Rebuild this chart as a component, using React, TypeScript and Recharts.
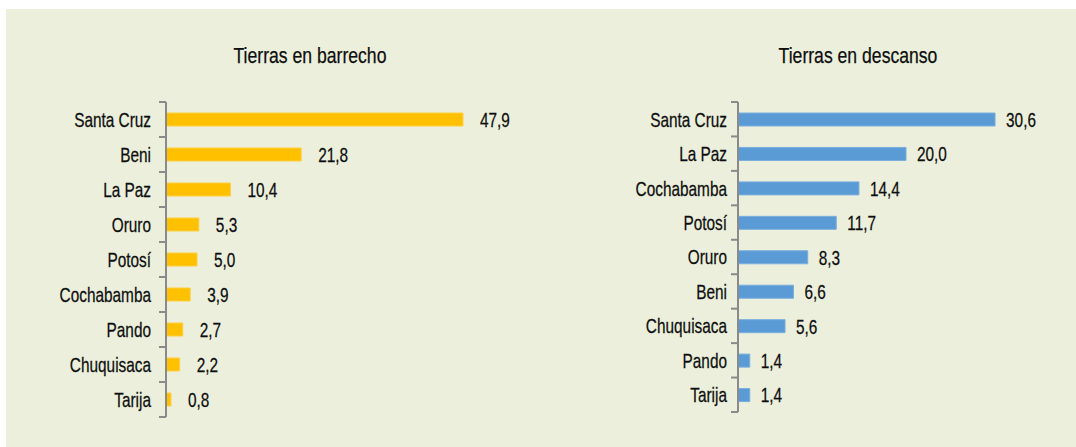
import React from 'react';
import { BarChart, Bar, XAxis, YAxis, LabelList } from 'recharts';

const barrechoCats = ['Santa Cruz', 'Beni', 'La Paz', 'Oruro', 'Potosí', 'Cochabamba', 'Pando', 'Chuquisaca', 'Tarija'];
const barrechoVals = [47.9, 21.8, 10.4, 5.3, 5.0, 3.9, 2.7, 2.2, 0.8];
const descansoCats = ['Santa Cruz', 'La Paz', 'Cochabamba', 'Potosí', 'Oruro', 'Beni', 'Chuquisaca', 'Pando', 'Tarija'];
const descansoVals = [30.6, 20.0, 14.4, 11.7, 8.3, 6.6, 5.6, 1.4, 1.4];
const titles = ['Tierras en barrecho', 'Tierras en descanso'];

const FONT = "'Liberation Sans', Arial, sans-serif";
const SX = 0.75;
const FS = 20.5;
const TEXT = '#0e0e0e';
const AXIS = '#8a8a8a';
const H = 447;

const fmt = (v: any) => Number(v).toFixed(1).replace('.', ',');

type PanelProps = {
  cats: string[];
  vals: number[];
  left: number;
  width: number;
  axisW: number;
  domainMax: number;
  top: number;
  bottom: number;
  color: string;
  edge: string;
  labelOffset: number;
  labelGap: number;
};

function NarrowText(props: { x: number; y: number; anchor: 'start' | 'end'; children: any }) {
  return (
    <text
      transform={`translate(${props.x},${props.y}) scale(${SX},1)`}
      x={0}
      y={0}
      dy="0.36em"
      textAnchor={props.anchor}
      fill={TEXT}
      stroke={TEXT}
      strokeWidth={0.25}
      fontSize={FS}
      fontFamily={FONT}
    >
      {props.children}
    </text>
  );
}

function Panel(p: PanelProps) {
  const data = p.cats.map((name, i) => ({ name, value: p.vals[i] }));
  const n = data.length;
  const band = (H - p.top - p.bottom) / n;
  const renderTick = (props: any) => {
    const { y, payload, index } = props;
    return (
      <g>
        <NarrowText x={p.axisW - p.labelGap} y={y} anchor="end">
          {payload.value}
        </NarrowText>
        <line x1={p.axisW - 7} x2={p.axisW} y1={y - band / 2} y2={y - band / 2} stroke={AXIS} strokeWidth={2} />
        {index === n - 1 && (
          <line x1={p.axisW - 7} x2={p.axisW} y1={y + band / 2} y2={y + band / 2} stroke={AXIS} strokeWidth={2} />
        )}
      </g>
    );
  };
  const renderLabel = (props: any) => {
    const { x, y, width, height, value } = props;
    return (
      <NarrowText x={Number(x) + Number(width) + p.labelOffset} y={Number(y) + Number(height) / 2} anchor="start">
        {fmt(value)}
      </NarrowText>
    );
  };
  return (
    <div style={{ position: 'absolute', left: p.left, top: 0 }}>
      <BarChart
        width={p.width}
        height={H}
        data={data}
        layout="vertical"
        margin={{ top: p.top, bottom: p.bottom, left: 0, right: 2 }}
      >
        <XAxis type="number" domain={[0, p.domainMax]} hide />
        <YAxis
          type="category"
          dataKey="name"
          width={p.axisW}
          axisLine={{ stroke: AXIS, strokeWidth: 2 }}
          tickLine={false}
          interval={0}
          tick={renderTick}
        />
        <Bar dataKey="value" fill={p.color} stroke={p.edge} strokeWidth={1} barSize={13} isAnimationActive={false}>
          <LabelList dataKey="value" content={renderLabel} />
        </Bar>
      </BarChart>
    </div>
  );
}

const titleStyle = (cx: number): React.CSSProperties => ({
  position: 'absolute',
  left: cx - 150,
  top: 45,
  width: 300,
  textAlign: 'center',
  fontSize: 22,
  lineHeight: '22px',
  color: TEXT,
  fontFamily: FONT,
  transform: 'scaleX(0.8)',
  transformOrigin: '50% 50%',
  whiteSpace: 'nowrap',
  WebkitTextStroke: '0.25px #0e0e0e',
});

export default function App() {
  return (
    <div
      style={{
        position: 'absolute',
        left: 0,
        top: 0,
        width: 1076,
        height: H,
        background: '#ffffff',
        fontFamily: FONT,
        overflow: 'hidden',
      }}
    >
      <div style={{ position: 'absolute', left: 6, top: 9, width: 1070, height: H - 9, background: '#EBEFDB' }} />
      <div style={titleStyle(310)}>{titles[0]}</div>
      <div style={titleStyle(858)}>{titles[1]}</div>
      <Panel
        cats={barrechoCats}
        vals={barrechoVals}
        left={0}
        width={540}
        axisW={166}
        domainMax={60}
        top={102}
        bottom={30}
        color="#FFC000"
        edge="#FFCF40"
        labelOffset={17}
        labelGap={15}
      />
      <Panel
        cats={descansoCats}
        vals={descansoVals}
        left={540}
        width={536}
        axisW={198}
        domainMax={40}
        top={102}
        bottom={35}
        color="#5B9BD5"
        edge="#7AAEDD"
        labelOffset={11}
        labelGap={11}
      />
    </div>
  );
}
